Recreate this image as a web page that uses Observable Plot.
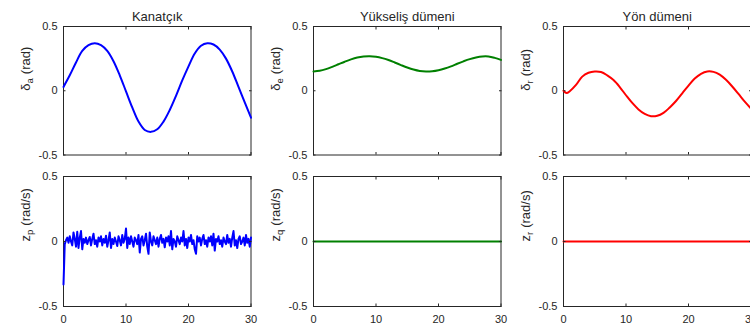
<!DOCTYPE html>
<html><head><meta charset="utf-8">
<script src="https://cdn.jsdelivr.net/npm/d3@7"></script>
<script src="https://cdn.jsdelivr.net/npm/@observablehq/plot@0.6"></script>
<style>
html,body{margin:0;padding:0;background:#fff;}
#chart{position:relative;width:750px;height:329px;overflow:hidden;background:#fff;}
#chart svg{position:absolute;top:0;background:transparent !important;overflow:visible;}
</style></head><body><div id="chart"></div>
<script>
// ---- data ----
const tSec = [0,1,2,3,4,5,6,7,8,9,10,11,12,13,14,15,16,17,18,19,20,21,22,23,24,25,26,27,28,29,30];
const deltaA = [0.03,0.12,0.22,0.31,0.355,0.37,0.355,0.31,0.23,0.12,-0.005,-0.13,-0.24,-0.305,-0.32,-0.30,-0.24,-0.15,-0.04,0.08,0.19,0.29,0.35,0.37,0.36,0.32,0.25,0.15,0.03,-0.09,-0.21];
const deltaE = [0.150,0.155,0.168,0.186,0.206,0.226,0.244,0.258,0.266,0.268,0.264,0.254,0.239,0.220,0.200,0.181,0.165,0.154,0.150,0.152,0.160,0.173,0.190,0.210,0.229,0.246,0.259,0.267,0.267,0.256,0.240];
const tR = [0,0.5,1,2,3,4,5,6,7,8,9,10,11,12,13,14,15,16,17,18,19,20,21,22,23,24,25,26,27,28,29,30];
const deltaR = [0.0,-0.018,-0.004,0.045,0.11,0.14,0.15,0.146,0.12,0.083,0.029,-0.035,-0.095,-0.145,-0.18,-0.198,-0.195,-0.172,-0.13,-0.08,-0.02,0.04,0.095,0.132,0.15,0.147,0.125,0.085,0.033,-0.025,-0.085,-0.138];
const noiseStep = 0.2;
const zP = [-0.33,-0.02,0.01,0.03,-0.01,0.04,0.0,-0.03,0.07,0.02,-0.04,0.075,-0.05,0.03,0.08,-0.06,0.02,-0.01,0.03,-0.02,0.01,0.035,-0.03,0.02,0.06,-0.02,0.01,-0.04,0.03,0.0,0.04,-0.03,0.02,-0.01,0.045,-0.04,0.01,0.07,-0.05,0.02,-0.02,0.03,0.0,-0.035,0.04,0.01,-0.03,0.05,-0.01,0.02,0.1,-0.05,0.03,-0.02,0.04,0.0,-0.04,0.03,0.01,-0.02,0.05,-0.085,0.02,0.04,-0.03,0.01,0.06,-0.04,-0.095,0.07,0.0,-0.03,0.04,0.01,-0.02,0.03,-0.04,0.02,0.05,-0.01,0.02,-0.045,0.03,0.0,0.04,-0.03,0.08,-0.06,0.02,0.0,-0.04,0.04,0.01,-0.02,0.03,0.0,0.08,-0.03,0.02,-0.05,0.03,0.0,0.05,-0.02,0.01,-0.06,-0.095,0.04,0.0,0.03,-0.03,0.02,0.05,-0.02,0.01,-0.04,0.03,0.0,0.04,-0.03,0.06,-0.07,0.02,0.0,0.04,-0.02,0.01,-0.04,0.03,0.0,-0.02,0.05,-0.01,0.02,-0.04,0.03,0.08,-0.03,0.01,-0.05,0.02,0.04,-0.02,0.0,0.03,-0.03,0.05,-0.01,0.02,-0.04,0.03];
const tNoise = zP.map((_, i) => i * noiseStep);
const zQ = [0, 0];
const zR = [0, 0];
const tFlat = [0, 30];

const titles = ["Kanatçık", "Yükseliş dümeni", "Yön dümeni"];
const labelSym = ["δ", "δ", "δ", "z", "z", "z"];
const labelSub = ["a", "e", "r", "p", "q", "r"];
const labelUnit = ["(rad)", "(rad)", "(rad)", "(rad/s)", "(rad/s)", "(rad/s)"];
const colors = ["#0000ff", "#008000", "#ff0000"];
const xTicks = [0, 10, 20, 30];
const xTickLabels = ["0", "10", "20", "30"];
const yTicks = [-0.5, 0, 0.5];
const yTickLabels = ["-0.5", "0", "0.5"];

// ---- drawing ----
const ink = "#262626";
const font = "'Liberation Sans', Arial, Helvetica, sans-serif";
const panels = [
  {col: 0, row: 0, t: tSec, v: deltaA, curve: "catmull-rom"},
  {col: 1, row: 0, t: tSec, v: deltaE, curve: "catmull-rom"},
  {col: 2, row: 0, t: tR, v: deltaR, curve: "catmull-rom"},
  {col: 0, row: 1, t: tNoise, v: zP, curve: "linear"},
  {col: 1, row: 1, t: tFlat, v: zQ, curve: "linear"},
  {col: 2, row: 1, t: tFlat, v: zR, curve: "linear"}
];
const chart = document.getElementById("chart");
panels.forEach((p, k) => {
  const data = p.t.map((t, i) => ({t, v: p.v[i]}));
  const top = p.row === 0 ? 26 : 176;
  const bottom = p.row === 0 ? 154.5 : 306;
  const fmtX = d => xTickLabels[xTicks.indexOf(d)];
  const fmtY = d => yTickLabels[yTicks.indexOf(d)];
  const labelText = labelSym[k] + labelSub[k] + " " + labelUnit[k];
  const marks = [
    Plot.frame({stroke: ink, strokeWidth: 1}),
    Plot.line(data, {x: "t", y: "v", stroke: colors[p.col], strokeWidth: 2, curve: p.curve}),
    Plot.axisX(xTicks, {anchor: "top", tickSize: -2.5, tickFormat: () => "", stroke: ink, label: null}),
    Plot.axisX(xTicks, {anchor: "bottom", tickSize: -2.5, tickPadding: p.row === 1 ? 11.5 : 0, tickFormat: p.row === 1 ? fmtX : () => "", color: ink, fontSize: 11, label: null}),
    Plot.axisY(yTicks, {anchor: "left", tickSize: -2.5, tickPadding: 8.5, tickFormat: fmtY, color: ink, fontSize: 11, label: null}),
    Plot.axisY(yTicks, {anchor: "right", tickSize: -2.5, tickFormat: () => "", stroke: ink, label: null}),
    Plot.text([labelText], {frameAnchor: "left", dx: -38, rotate: -90, text: d => d, fontSize: 13, fill: ink})
  ];
  if (p.row === 0) {
    marks.push(Plot.text([titles[p.col]], {frameAnchor: "top", dy: -10, text: d => d, fontSize: 13, fill: ink, lineAnchor: "middle"}));
  }
  const svg = Plot.plot({
    width: 251, height: 329,
    marginLeft: 63, marginRight: 0.5, marginTop: top, marginBottom: 329 - bottom,
    x: {domain: [0, 30], axis: null},
    y: {domain: [-0.5, 0.5], axis: null},
    style: {fontFamily: font, fontSize: "11px", color: ink, background: "transparent", overflow: "visible"},
    marks
  });
  svg.style.left = (250 * p.col) + "px";
  d3.select(svg).selectAll("text").filter(function() { return this.textContent === labelText; }).each(function() {
    const el = d3.select(this);
    el.selectAll("*").remove();
    el.text(null);
    el.append("tspan").text(labelSym[k]);
    el.append("tspan").attr("dy", "3.5").attr("font-size", "9.5px").text(labelSub[k]);
    el.append("tspan").attr("dy", "-3.5").attr("dx", "4").text(labelUnit[k]);
  });
  chart.appendChild(svg);
});
</script></body></html>
